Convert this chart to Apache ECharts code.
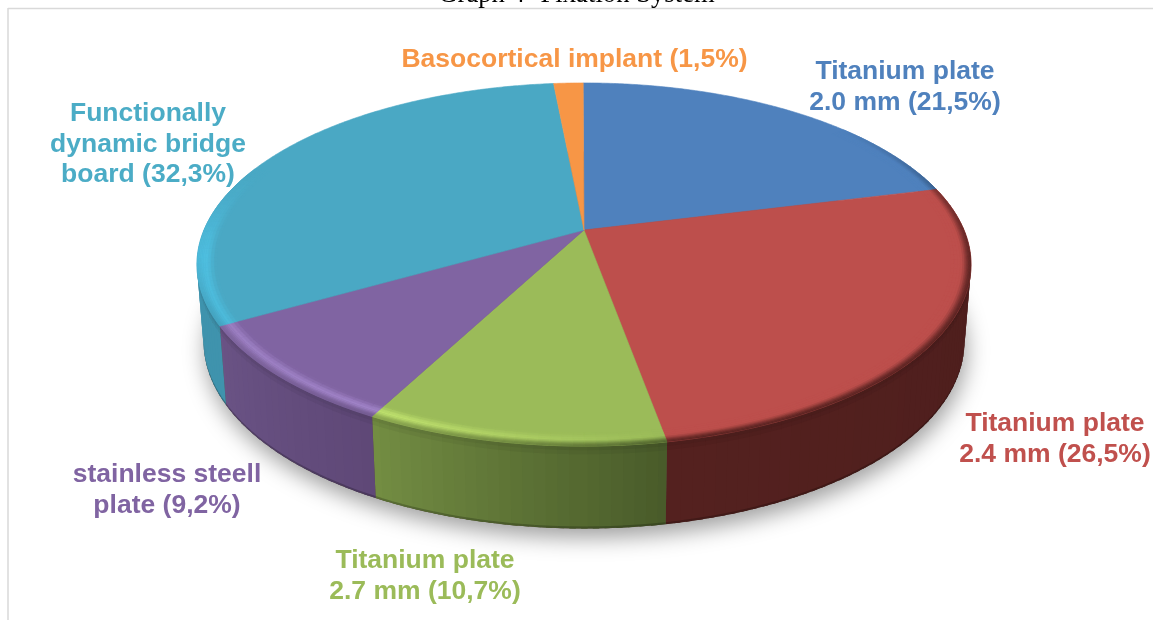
<!DOCTYPE html>
<html><head><meta charset="utf-8">
<script src="https://cdn.jsdelivr.net/npm/echarts@6/dist/echarts.min.js"></script>
<style>html,body{margin:0;padding:0;background:#fff}#c{width:1153px;height:620px}</style>
</head><body><div id="c"></div>
<script>
const titleText = 'Graph 4- Fixation System';
const categories = ['Titanium plate\n2.0 mm (21,5%)','Titanium plate\n2.4 mm (26,5%)','Titanium plate\n2.7 mm (10,7%)','stainless steell\nplate (9,2%)','Functionally\ndynamic bridge\nboard (32,3%)','Basocortical implant (1,5%)'];
const values = [21.5,26.5,10.7,9.2,32.3,1.5];
const faceColors = ['#4f81bd','#bd4f4c','#9bbb59','#8064a2','#4aa8c4','#f79646'];
const textColors = ['#4f81bd','#c0504d','#9bbb59','#8064a2','#4bacc6','#f79646'];
const lightColors = ['#4f81bd','#bd4f4c','#c2e470','#a487cc','#4ebfe0','#f79646'];
const wallStart = ['#2c4a6e','#4b1d1c','#485a29','#5f4877','#3f93ad','#8f5a28'];
const wallEnd   = ['#2c4a6e','#54211f','#748e43','#6a5385','#3f93ad','#8f5a28'];
const labelAnchors = [[905,72],[1055,424],[425,561],[167,475],[148,114],[574.5,60]];

// perspective of the pie disc
const view = {cx:584, cy:230, a:175, b:0.19, c:380, shrink:0.983, depth:75.5, depthFront:7, turn:-0.15};
const total = values.reduce((s,v)=>s+v,0);
const startAngle = []; let run = 0;
values.forEach(v=>{startAngle.push(run/total*360+view.turn); run+=v;});
const rad = d=>d*Math.PI/180;
function project(r,deg){
  const u=r*Math.sin(rad(deg)), v=r*Math.cos(rad(deg)), d=1+view.b*v;
  return [view.cx+view.c*u/d, view.cy-view.a*v/d];
}
function projectBase(deg){
  const p=project(1,deg), v=Math.cos(rad(deg));
  return [view.cx+(p[0]-view.cx)*view.shrink, p[1]+view.depth+view.depthFront*(-v)];
}
function wallPoint(deg,t){
  const a=project(1,deg), b=projectBase(deg);
  return [a[0]+(b[0]-a[0])*t, a[1]+(b[1]-a[1])*t];
}
const hex=c=>[1,3,5].map(i=>parseInt(c.substr(i,2),16));
const mix=(a,b,t)=>{const A=hex(a),B=hex(b);return '#'+A.map((x,i)=>Math.round(x+(B[i]-x)*t).toString(16).padStart(2,'0')).join('');};
const clamp=(x)=>Math.max(0,Math.min(1,x));
const smooth=x=>{x=clamp(x);return x*x*(3-2*x);};
function range(s,e,step){const out=[];const n=Math.max(1,Math.ceil((e-s)/step));for(let i=0;i<=n;i++)out.push(s+(e-s)*i/n);return out;}

function renderShadow(params,api){
  const pts=range(0,360,3).map(projectBase);
  return {type:'polygon',shape:{points:pts},style:{fill:'#5a4a40',shadowBlur:22,shadowColor:'rgba(0,0,0,0.38)',shadowOffsetX:2,shadowOffsetY:9}};
}
const wallBands=[[0,0.05,0.1],[0.05,0.1,0.05],[0.1,0.975,0],[0.975,1,0.22]];
function renderWall(params,api){
  const i=params.dataIndex, s=startAngle[i], e=s+api.value(0)/total*360;
  const from=Math.max(70,s), to=Math.min(290,e);
  if(to<=from) return {type:'group',children:[]};
  const th=range(from,to,1.5), strips=[];
  for(let k=0;k<th.length-1;k++){
    const mid=(th[k]+th[k+1])/2, col=mix(wallStart[i],wallEnd[i],(mid-from)/(to-from));
    const a=Math.max(from,th[k]-0.4), b=Math.min(to,th[k+1]+0.4);
    strips.push({mid,col,a,b});
  }
  // strips nearest the back of the disc are painted first
  strips.sort((p,q)=>Math.abs(q.mid-180)-Math.abs(p.mid-180));
  const children=[];
  strips.forEach(st=>wallBands.forEach(bd=>{
    const c=mix(st.col,'#000000',bd[2]);
    const t1=bd[1]===1?1:bd[1]+0.01;
    children.push({type:'polygon',shape:{points:[wallPoint(st.a,bd[0]),wallPoint(st.b,bd[0]),wallPoint(st.b,t1),wallPoint(st.a,t1)]},style:{fill:c}});
  }));
  return {type:'group',children};
}
function renderFace(params,api){
  const i=params.dataIndex, s=startAngle[i], e=s+api.value(0)/total*360;
  const pts=[[view.cx,view.cy]].concat(range(s,e,0.5).map(d=>project(1,d)));
  return {type:'polygon',shape:{points:pts},style:{fill:faceColors[i],stroke:faceColors[i],lineWidth:0.6}};
}
const litStops=[[170,0],[190,0.55],[205,0.95],[240,0.8],[262,1],[280,0.25],[290,0]];
const darkStops=[[50,0],[75,0.55],[100,0.85],[165,0.95],[180,0.8],[205,0.7],[245,0.55],[262,0.1],[272,0]];
function lerpStops(st,x){
  if(x<=st[0][0])return st[0][1];
  for(let k=1;k<st.length;k++) if(x<=st[k][0]){const t=(x-st[k-1][0])/(st[k][0]-st[k-1][0]);return st[k-1][1]+(st[k][1]-st[k-1][1])*t;}
  return st[st.length-1][1];
}
const bevelR=[0.95,0.958,0.966,0.973,0.979,0.984,0.988,0.992,0.996,1];
function renderBevel(params,api){
  const i=params.dataIndex, s=startAngle[i], e=s+api.value(0)/total*360;
  const from=Math.max(50,s), to=Math.min(292,e);
  if(to<=from) return {type:'group',children:[]};
  const th=range(from,to,1.5), children=[];
  for(let k=0;k<th.length-1;k++){
    const mid=(th[k]+th[k+1])/2, L=lerpStops(litStops,mid), D=lerpStops(darkStops,mid);
    const wall=mix(wallStart[i],wallEnd[i],clamp((mid-Math.max(90,s))/Math.max(1,Math.min(271,e)-Math.max(90,s))));
    for(let b=0;b<bevelR.length-1;b++){
      const r=(bevelR[b]+bevelR[b+1])/2;
      let c=mix(faceColors[i],lightColors[i],L*smooth((r-0.95)/0.03));
      c=mix(c,wall,D*smooth((r-0.974)/0.026));
      const pts=[project(bevelR[b],th[k]),project(bevelR[b],th[k+1]),project(bevelR[b+1],th[k+1]),project(bevelR[b+1],th[k])];
      children.push({type:'polygon',shape:{points:pts},style:{fill:c,stroke:c,lineWidth:0.5}});
    }
  }
  return {type:'group',children};
}
function renderLabel(params,api){
  const i=params.dataIndex;
  const lines=categories[i].split('\n');
  return {type:'group',children:lines.map((t,n)=>({type:'text',style:{
    text:t,x:labelAnchors[i][0],y:labelAnchors[i][1]+n*30.4,align:'center',verticalAlign:'middle',
    fontFamily:'Liberation Sans',fontWeight:'bold',fontSize:26.5,fill:textColors[i]}}))};
}
const layer=(name,fn)=>({name,type:'custom',coordinateSystem:'none',renderItem:fn,data:values.map(v=>[v]),silent:true,animation:false,clip:false});
const chart=echarts.init(document.getElementById('c'),null,{renderer:'canvas'});
chart.setOption({
  animation:false,backgroundColor:'#ffffff',
  graphic:[
    {type:'line',shape:{x1:8,y1:8.5,x2:1153,y2:8.5},style:{stroke:'#d9d9d9',lineWidth:1.5},silent:true},
    {type:'line',shape:{x1:8,y1:8,x2:8,y2:620},style:{stroke:'#d9d9d9',lineWidth:1.5},silent:true},
    {type:'text',style:{text:titleText,x:576.5,y:-5.5,align:'center',verticalAlign:'middle',fontFamily:'Liberation Serif',fontSize:26.7,fill:'#000'},silent:true}
  ],
  series:[
    Object.assign(layer('shadow',renderShadow),{data:[[1]]}),
    layer('wall',renderWall),
    layer('face',renderFace),
    layer('bevel',renderBevel),
    layer('labels',renderLabel)
  ]
});
</script></body></html>
